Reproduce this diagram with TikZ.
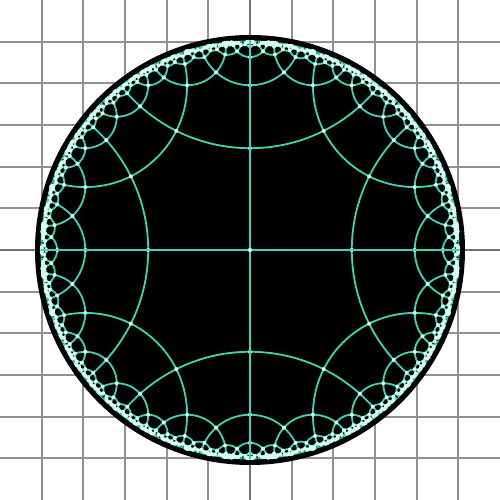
\documentclass[tikz,border=0pt]{standalone}
\ExplSyntaxOn
\fp_const:Nn \c_hyp_phi_fp { (1+sqrt(5))/2 }
\fp_const:Nn \c_hyp_sphi_fp { sqrt(\c_hyp_phi_fp) }
\fp_const:Nn \c_hyp_R_fp { 4.19 }
\fp_const:Nn \c_hyp_cut_fp { 90 }
\int_const:Nn \c_hyp_max_int { 2500 }
\fparray_new:Nn \g_hyp_T_fparray { 18 * \c_hyp_max_int }
\int_new:N \g_hyp_head_int
\int_new:N \g_hyp_tail_int
\int_new:N \l_hyp_base_int
\int_new:N \l_hyp_nb_int
\int_new:N \l_hyp_idx_int
\fp_new:N \l_hyp_s_fp
\fp_new:N \l_hyp_ca_fp
\fp_new:N \l_hyp_cb_fp
\fp_new:N \l_hyp_cc_fp
\fp_new:N \l_hyp_a_fp
\fp_new:N \l_hyp_b_fp
\fp_new:N \l_hyp_c_fp
\fp_new:N \l_hyp_va_fp
\fp_new:N \l_hyp_vb_fp
\fp_new:N \l_hyp_vc_fp
\tl_new:N \l_hyp_key_tl
\tl_new:N \g_hyp_lines_tl
\tl_new:N \g_hyp_dots_tl

\cs_new:Npn \hyp_cur:nn #1#2
  { \fparray_item:Nn \g_hyp_T_fparray { \l_hyp_base_int + 3*(#1) + (#2) - 3 } }
\cs_new:Npn \hyp_lor:nn #1#2
  { ( \hyp_cur:nn{#1}{1} * \hyp_cur:nn{#2}{1}
    + \hyp_cur:nn{#1}{2} * \hyp_cur:nn{#2}{2}
    - \hyp_cur:nn{#1}{3} * \hyp_cur:nn{#2}{3} ) }

\cs_new_protected:Npn \hyp_vertex:nn #1#2
  {
    \fp_set:Nn \l_hyp_va_fp { \hyp_cur:nn{#1}{3}*\hyp_cur:nn{#2}{2} - \hyp_cur:nn{#1}{2}*\hyp_cur:nn{#2}{3} }
    \fp_set:Nn \l_hyp_vb_fp { \hyp_cur:nn{#1}{1}*\hyp_cur:nn{#2}{3} - \hyp_cur:nn{#1}{3}*\hyp_cur:nn{#2}{1} }
    \fp_set:Nn \l_hyp_vc_fp { \hyp_cur:nn{#1}{1}*\hyp_cur:nn{#2}{2} - \hyp_cur:nn{#1}{2}*\hyp_cur:nn{#2}{1} }
    \fp_set:Nn \l_hyp_s_fp { sqrt(\l_hyp_vc_fp^2 - \l_hyp_va_fp^2 - \l_hyp_vb_fp^2) * sign(\l_hyp_vc_fp) }
    \fp_set:Nn \l_hyp_va_fp { \l_hyp_va_fp / \l_hyp_s_fp }
    \fp_set:Nn \l_hyp_vb_fp { \l_hyp_vb_fp / \l_hyp_s_fp }
    \fp_set:Nn \l_hyp_vc_fp { \l_hyp_vc_fp / \l_hyp_s_fp }
    \tl_set:Nx \l_hyp_key_tl
      { hypV \fp_eval:n { round(\l_hyp_va_fp,2) } , \fp_eval:n { round(\l_hyp_vb_fp,2) } }
    \cs_if_exist:cF { \l_hyp_key_tl }
      {
        \cs_gset:cpn { \l_hyp_key_tl } { }
        \tl_gput_right:Nx \g_hyp_dots_tl
          {
            ( \fp_eval:n { round(\c_hyp_R_fp * \l_hyp_va_fp / (1 + \l_hyp_vc_fp), 5) } ,
              \fp_eval:n { round(\c_hyp_R_fp * \l_hyp_vb_fp / (1 + \l_hyp_vc_fp), 5) } )
            circle[radius=0.04]
          }
      }
  }

\cs_new_protected:Npn \hyp_draw_tile:
  {
    \int_step_inline:nn {5}
      {
        \fp_set:Nn \l_hyp_a_fp { \hyp_cur:nn{##1}{1} }
        \fp_set:Nn \l_hyp_b_fp { \hyp_cur:nn{##1}{2} }
        \fp_set:Nn \l_hyp_c_fp { \hyp_cur:nn{##1}{3} }
        \fp_compare:nNnT { abs(\l_hyp_c_fp) } > { 0.000001 }
          {
            \fp_compare:nNnT \l_hyp_c_fp < {0}
              {
                \fp_set:Nn \l_hyp_a_fp { - \l_hyp_a_fp }
                \fp_set:Nn \l_hyp_b_fp { - \l_hyp_b_fp }
                \fp_set:Nn \l_hyp_c_fp { - \l_hyp_c_fp }
              }
            \tl_set:Nx \l_hyp_key_tl
              { hypL \fp_eval:n { round(\l_hyp_a_fp,2) } , \fp_eval:n { round(\l_hyp_b_fp,2) } }
            \cs_if_exist:cF { \l_hyp_key_tl }
              {
                \cs_gset:cpn { \l_hyp_key_tl } { }
                \tl_gput_right:Nx \g_hyp_lines_tl
                  {
                    ( \fp_eval:n { round(\c_hyp_R_fp * \l_hyp_a_fp / \l_hyp_c_fp, 5) } ,
                      \fp_eval:n { round(\c_hyp_R_fp * \l_hyp_b_fp / \l_hyp_c_fp, 5) } )
                    circle[radius=\fp_eval:n { round(\c_hyp_R_fp / \l_hyp_c_fp, 5) }]
                  }
              }
          }
        \hyp_vertex:nn {##1} { \int_eval:n { \int_mod:nn {##1}{5} + 1 } }
      }
  }

\cs_new_protected:Npn \hyp_neighbor:n #1
  {
    \fp_set:Nn \l_hyp_s_fp { 2 * \hyp_lor:nn {6}{#1} }
    \fp_set:Nn \l_hyp_ca_fp { \hyp_cur:nn{6}{1} - \l_hyp_s_fp * \hyp_cur:nn{#1}{1} }
    \fp_set:Nn \l_hyp_cb_fp { \hyp_cur:nn{6}{2} - \l_hyp_s_fp * \hyp_cur:nn{#1}{2} }
    \fp_set:Nn \l_hyp_cc_fp { \hyp_cur:nn{6}{3} - \l_hyp_s_fp * \hyp_cur:nn{#1}{3} }
    \fp_compare:nNnF \l_hyp_ca_fp < {0}
      {
        \fp_compare:nNnF \l_hyp_cb_fp < {0}
          {
            \fp_compare:nNnF \l_hyp_cc_fp > \c_hyp_cut_fp
              {
                \tl_set:Nx \l_hyp_key_tl
                  { hypT \fp_eval:n { round(\l_hyp_ca_fp,2) } , \fp_eval:n { round(\l_hyp_cb_fp,2) } }
                \cs_if_exist:cF { \l_hyp_key_tl }
                  {
                    \cs_gset:cpn { \l_hyp_key_tl } { }
                    \int_compare:nNnT \g_hyp_tail_int < \c_hyp_max_int
                      {
                        \int_set:Nn \l_hyp_nb_int { 18 * \g_hyp_tail_int }
                        \int_step_inline:nn {5}
                          {
                            \fp_set:Nn \l_hyp_s_fp { 2 * \hyp_lor:nn {##1}{#1} }
                            \int_step_inline:nn {3}
                              {
                                \fparray_gset:Nnn \g_hyp_T_fparray
                                  { \l_hyp_nb_int + 3*##1 + ####1 - 3 }
                                  { \hyp_cur:nn{##1}{####1} - \l_hyp_s_fp * \hyp_cur:nn{#1}{####1} }
                              }
                          }
                        \fparray_gset:Nnn \g_hyp_T_fparray { \l_hyp_nb_int + 16 } { \l_hyp_ca_fp }
                        \fparray_gset:Nnn \g_hyp_T_fparray { \l_hyp_nb_int + 17 } { \l_hyp_cb_fp }
                        \fparray_gset:Nnn \g_hyp_T_fparray { \l_hyp_nb_int + 18 } { \l_hyp_cc_fp }
                        \int_gincr:N \g_hyp_tail_int
                      }
                  }
              }
          }
      }
  }

\cs_new_protected:Npn \hyp_run:
  {
    \int_set:Nn \l_hyp_idx_int {0}
    \clist_map_inline:nn
      {
        0, -1, 0,
        \c_hyp_phi_fp, 0, \c_hyp_sphi_fp,
        \c_hyp_phi_fp, \c_hyp_phi_fp, \c_hyp_phi_fp * \c_hyp_sphi_fp,
        0, \c_hyp_phi_fp, \c_hyp_sphi_fp,
        -1, 0, 0,
        0.35/sqrt(0.755), 0.35/sqrt(0.755), 1/sqrt(0.755)
      }
      {
        \int_incr:N \l_hyp_idx_int
        \fparray_gset:Nnn \g_hyp_T_fparray { \l_hyp_idx_int } { ##1 }
      }
    \int_gset:Nn \g_hyp_head_int {0}
    \int_gset:Nn \g_hyp_tail_int {1}
    \int_set:Nn \l_hyp_base_int {0}
    \tl_set:Nx \l_hyp_key_tl
      { hypT \fp_eval:n { round(\hyp_cur:nn{6}{1},2) } , \fp_eval:n { round(\hyp_cur:nn{6}{2},2) } }
    \cs_gset:cpn { \l_hyp_key_tl } { }
    \int_do_while:nNnn \g_hyp_head_int < \g_hyp_tail_int
      {
        \int_set:Nn \l_hyp_base_int { 18 * \g_hyp_head_int }
        \hyp_draw_tile:
        \int_step_inline:nn {5} { \hyp_neighbor:n {##1} }
        \int_gincr:N \g_hyp_head_int
      }
    \cs_gset_eq:NN \hyplines \g_hyp_lines_tl
    \cs_gset_eq:NN \hypdots \g_hyp_dots_tl
  }
\hyp_run:
\ExplSyntaxOff

\definecolor{tealline}{RGB}{60,214,182}
\definecolor{dotcol}{RGB}{215,252,244}
\definecolor{gridcol}{RGB}{145,145,145}
\definecolor{axiscol}{RGB}{115,115,115}
\tikzset{
  gridline/.style={draw=gridcol,line width=0.034cm},
  axisline/.style={draw=axiscol,line width=0.05cm},
  tileline/.style={draw=tealline,line width=0.036cm},
  vdot/.style={fill=dotcol}
}
\begin{document}
\begin{tikzpicture}
\useasboundingbox (0,0) rectangle (10,10);
\fill[white] (0,0) rectangle (10,10);
\foreach \i in {1,...,5,7,8,9,10,11} {
  \draw[gridline] ({\i*10/12},0) -- ({\i*10/12},10);
  \draw[gridline] (0,{\i*10/12}) -- (10,{\i*10/12});
}
\draw[axisline] (5,0) -- (5,10);
\draw[axisline] (0,5) -- (10,5);
\fill[black] (5,5) circle (4.30);
\begin{scope}[shift={(5,5)}]
  \foreach \r in {0,90,180,270} {
    \begin{scope}[rotate=\r]
      \clip (0,0) rectangle (4.5,4.5);
      \begin{scope}
        \clip (0,0) circle (4.19);
        \draw[tileline] \hyplines;
      \end{scope}
      \fill[vdot] \hypdots;
    \end{scope}
  }
  \draw[tileline] (-4.19,0) -- (4.19,0);
  \draw[tileline] (0,-4.19) -- (0,4.19);
  \fill[vdot] (0,0) circle (0.04);
\end{scope}
\end{tikzpicture}
\end{document}
